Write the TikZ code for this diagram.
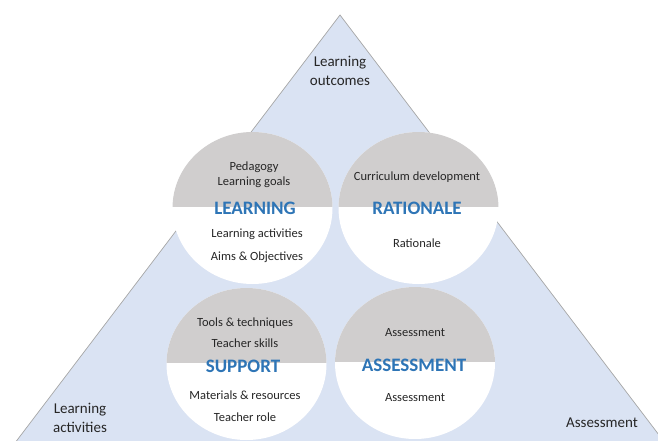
\documentclass[tikz,border=0pt]{standalone}
\usepackage{fontspec}
\setmainfont{Carlito}
\definecolor{triblue}{HTML}{DAE3F3}
\definecolor{capgray}{HTML}{D0CECE}
\definecolor{titleblue}{HTML}{2E75B6}
\definecolor{txtdark}{HTML}{262626}
\definecolor{edgegray}{HTML}{A6A6A6}
\newcommand{\HalfDisc}[3]{%
  \begin{scope}
    \clip (#1,#2) ellipse [x radius=80pt, y radius=76pt];
    \fill[white] (#1-90,#2-90) rectangle (#1+90,#2+90);
    \fill[capgray] (#1-90,#2-90) rectangle (#1+90,#2+#3);
  \end{scope}}
\tikzset{
  small/.style={font=\fontsize{12.5}{14}\selectfont, text=txtdark, inner sep=0pt},
  title/.style={font=\fontsize{19}{22}\selectfont\bfseries, text=titleblue, inner sep=0pt},
  corner/.style={font=\fontsize{15}{19}\selectfont, text=txtdark, inner sep=0pt, align=center},
}
\begin{document}
\begin{tikzpicture}[x=1pt,y=-1pt]
\useasboundingbox (0,0) rectangle (658,441);
\clip (0,0) rectangle (658,441);
% triangle
\filldraw[fill=triblue, draw=edgegray, line width=0.7pt] (340,15) -- (2,460) -- (678,460) -- cycle;
% discs
\HalfDisc{252.5}{208}{-1}
\HalfDisc{418.5}{208}{-1}
\HalfDisc{246.5}{364}{-1}
\HalfDisc{415}{363}{-1}
% corner labels
\node[corner] (lo) at (340,71) {Learning\\outcomes};
\node[corner] (la) at (80,417.5) {Learning\\activities};
\node[corner] (as) at (602,423) {Assessment};
% learning
\node[small] (l1) at (254,167) {Pedagogy};
\node[small] (l2) at (254,182) {Learning goals};
\node[title] (lt) at (255,208) {LEARNING};
\node[small] (l3) at (257,234) {Learning activities};
\node[small] (l4) at (257,257) {Aims \& Objectives};
% rationale
\node[small] (r1) at (417,177) {Curriculum development};
\node[title] (rt) at (417,208) {RATIONALE};
\node[small] (r2) at (417,243) {Rationale};
% support
\node[small] (s1) at (245,323) {Tools \& techniques};
\node[small] (s2) at (245,343) {Teacher skills};
\node[title] (st) at (243,366) {SUPPORT};
\node[small] (s3) at (245,395) {Materials \& resources};
\node[small] (s4) at (245,417) {Teacher role};
% assessment
\node[small] (a1) at (415,333) {Assessment};
\node[title] (at) at (414,365) {ASSESSMENT};
\node[small] (a2) at (415,398) {Assessment};
\end{tikzpicture}
\end{document}
